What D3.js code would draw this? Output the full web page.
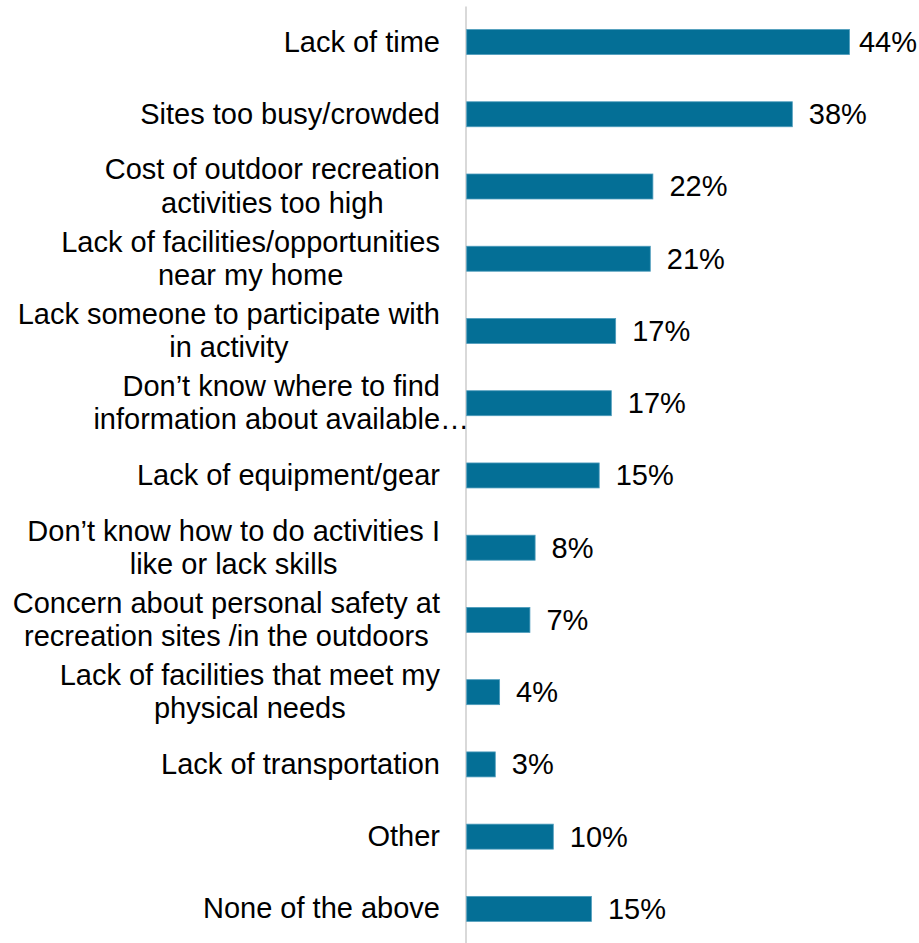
<!DOCTYPE html>
<html>
<head>
<meta charset="utf-8">
<script src="https://cdn.jsdelivr.net/npm/d3@7"></script>
<style>
  body { margin: 0; background: #fff; }
  svg { display: block; }
  text { font-family: "Liberation Sans", Arial, sans-serif; fill: #000; }
</style>
</head>
<body>
<div class="chart"></div>
<script>
// categories, one line break per "\n"
var categories = [
  "Lack of time",
  "Sites too busy/crowded",
  "Cost of outdoor recreation\nactivities too high",
  "Lack of facilities/opportunities\nnear my home",
  "Lack someone to participate with\nin activity",
  "Don\u2019t know where to find\ninformation about available\u2026",
  "Lack of equipment/gear",
  "Don\u2019t know how to do activities I\nlike or lack skills",
  "Concern about personal safety at\nrecreation sites /in the outdoors",
  "Lack of facilities that meet my\nphysical needs",
  "Lack of transportation",
  "Other",
  "None of the above"
];
var values = [44.2, 37.6, 21.5, 21.2, 17.2, 16.7, 15.3, 7.9, 7.3, 3.8, 3.3, 10.0, 14.4];
var valueLabels = ["44%", "38%", "22%", "21%", "17%", "17%", "15%", "8%", "7%", "4%", "3%", "10%", "15%"];

var width = 919,
  height = 943;
var fontSize = 29,
  lineHeight = 33.3,
  labelRight = 440;

var svg = d3.select(".chart")
  .append("svg")
  .attr("width", width)
  .attr("height", height);

var x = d3.scaleLinear()
  .domain([0, 50])
  .range([466.7, 466.7 + 50 * 8.66]);

var y = d3.scaleBand()
  .domain(categories)
  .range([5.9, 945])
  .paddingInner(0.654)
  .paddingOuter(0.327);

// vertical axis line, no ticks
var axis = svg.append("g")
  .attr("transform", "translate(465.5,0)")
  .call(d3.axisLeft(y).tickSize(0).tickSizeOuter(0).tickFormat(""));
axis.select(".domain").attr("stroke", "#d9d9d9").attr("stroke-width", 2);

var rows = categories.map(function(c, i) {
  return { cat: c, value: values[i], label: valueLabels[i] };
});

svg.append("g")
  .selectAll("rect")
  .data(rows)
  .enter()
  .append("rect")
  .attr("x", x(0))
  .attr("y", function(d) { return y(d.cat); })
  .attr("width", function(d) { return x(d.value) - x(0); })
  .attr("height", y.bandwidth())
  .attr("fill", "#046f96")
  .attr("stroke", "#4e9cbc")
  .attr("stroke-width", 0.8);

// category labels: lines centred on each other, block right-aligned
var labels = svg.append("g")
  .selectAll("text")
  .data(rows)
  .enter()
  .append("text")
  .attr("font-size", fontSize)
  .attr("text-anchor", "middle");

labels.each(function(d) {
  var t = d3.select(this);
  var lines = d.cat.split("\n");
  var cy = y(d.cat) + y.bandwidth() / 2;
  var n = lines.length;
  var spans = lines.map(function(line, i) {
    return t.append("tspan")
      .attr("y", cy + 9.5 + (i - (n - 1) / 2) * lineHeight)
      .text(line);
  });
  // truncated lines (ending in an ellipsis) overflow and do not set the width
  var maxW = 0;
  spans.forEach(function(s, i) {
    if (!/\u2026$/.test(lines[i])) maxW = Math.max(maxW, s.node().getComputedTextLength());
  });
  var cx = labelRight - maxW / 2;
  spans.forEach(function(s) { s.attr("x", cx); });
});

// value labels
svg.append("g")
  .selectAll("text")
  .data(rows)
  .enter()
  .append("text")
  .attr("font-size", fontSize)
  .attr("y", function(d) { return y(d.cat) + y.bandwidth() / 2 + 10; })
  .text(function(d) { return d.label; })
  .attr("x", function(d) {
    var w = this.getComputedTextLength();
    return Math.min(x(d.value) + 16.5, width - 2 - w);
  });
</script>
</body>
</html>
